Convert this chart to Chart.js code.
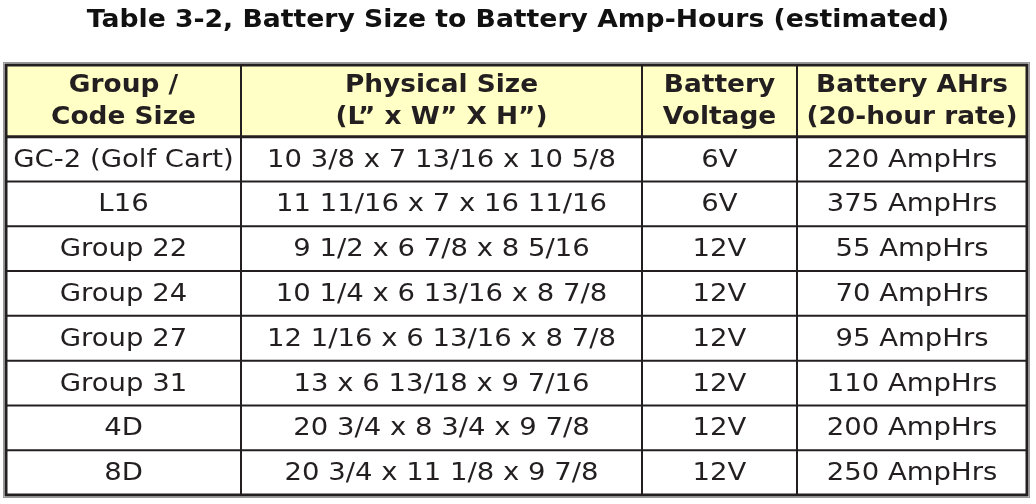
<!DOCTYPE html>
<html>
<head>
<meta charset="utf-8">
<script src="https://cdn.jsdelivr.net/npm/chart.js@4"></script>
<style>
  html, body { margin: 0; padding: 0; background: #fff; }
  #wrap { width: 1036px; height: 504px; }
</style>
</head>
<body>
<div id="wrap"><canvas id="batteryChart"></canvas></div>
<script>
const title = "Table 3-2, Battery Size to Battery Amp-Hours (estimated)";
const headers = [
  ["Group /", "Code Size"],
  ["Physical Size", "(L\u201D x W\u201D X H\u201D)"],
  ["Battery", "Voltage"],
  ["Battery AHrs", "(20-hour rate)"],
];
const groups = ["GC-2 (Golf Cart)", "L16", "Group 22", "Group 24", "Group 27", "Group 31", "4D", "8D"];
const sizes = [
  "10 3/8 x 7 13/16 x 10 5/8",
  "11 11/16 x 7 x 16 11/16",
  "9 1/2 x 6 7/8 x 8 5/16",
  "10 1/4 x 6 13/16 x 8 7/8",
  "12 1/16 x 6 13/16 x 8 7/8",
  "13 x 6 13/18 x 9 7/16",
  "20 3/4 x 8 3/4 x 9 7/8",
  "20 3/4 x 11 1/8 x 9 7/8",
];
const voltages = ["6V", "6V", "12V", "12V", "12V", "12V", "12V", "12V"];
const ampHours = [220, 375, 55, 70, 95, 110, 200, 250];

// layout: column edges on the x scale, header height in row units
const colEdges = [6, 241, 642, 797, 1027];
const headerRows = 1.6;

const columns = [groups, sizes, voltages, ampHours.map(v => v + " AmpHrs")];
const cells = [];
columns.forEach((col, c) => col.forEach((txt, r) => {
  cells.push({ x: (colEdges[c] + colEdges[c + 1]) / 2, y: headerRows + r + 0.5, text: txt });
}));

// Verdana-like width: stretch DejaVu horizontally
function wideText(ctx, txt, cx, cy, sx) {
  ctx.save();
  ctx.translate(cx, cy);
  ctx.scale(sx, 1);
  ctx.fillText(txt, 0, 0);
  ctx.restore();
}

const tablePlugin = {
  id: "tablePlugin",
  afterDraw(chart) {
    const { ctx, scales: { x, y } } = chart;
    const left = x.getPixelForValue(colEdges[0]);
    const right = x.getPixelForValue(colEdges[colEdges.length - 1]);
    const top = y.getPixelForValue(0);
    const hdrBottom = y.getPixelForValue(headerRows);
    const bottom = y.getPixelForValue(headerRows + groups.length);
    ctx.save();
    ctx.fillStyle = "#FFFFC6";
    ctx.fillRect(left, top, right - left, hdrBottom - top);
    ctx.strokeStyle = "#231F20";
    ctx.lineWidth = 2;
    for (let r = 1; r < groups.length; r++) {
      const py = y.getPixelForValue(headerRows + r);
      ctx.beginPath(); ctx.moveTo(left, py); ctx.lineTo(right, py); ctx.stroke();
    }
    colEdges.slice(1, -1).forEach(e => {
      const px = x.getPixelForValue(e);
      ctx.beginPath(); ctx.moveTo(px, top); ctx.lineTo(px, bottom); ctx.stroke();
    });
    ctx.lineWidth = 3;
    ctx.beginPath(); ctx.moveTo(left, hdrBottom); ctx.lineTo(right, hdrBottom); ctx.stroke();
    ctx.strokeRect(left, top, right - left, bottom - top);
    ctx.strokeStyle = "#999";
    ctx.lineWidth = 1;
    ctx.strokeRect(left - 2.5, top - 2.5, right - left + 5, bottom - top + 5);

    ctx.fillStyle = "#231F20";
    ctx.textAlign = "center";
    ctx.textBaseline = "middle";
    ctx.font = "bold 24px 'DejaVu Sans'";
    headers.forEach((lines, c) => {
      const cx = x.getPixelForValue((colEdges[c] + colEdges[c + 1]) / 2);
      const cy = (top + hdrBottom) / 2;
      wideText(ctx, lines[0], cx, cy - 15, 1.1);
      wideText(ctx, lines[1], cx, cy + 17, 1.1);
    });
    ctx.font = "25px 'DejaVu Sans'";
    cells.forEach(cell => {
      wideText(ctx, cell.text, x.getPixelForValue(cell.x), y.getPixelForValue(cell.y) + 1, 1.1);
    });
    ctx.fillStyle = "#111";
    ctx.font = "bold 24px 'DejaVu Sans'";
    wideText(ctx, title, chart.width / 2, 21, 1.11);
    ctx.restore();
  },
};

new Chart(document.getElementById("batteryChart"), {
  type: "scatter",
  data: { datasets: [{ data: cells, pointRadius: 0 }] },
  options: {
    responsive: true,
    maintainAspectRatio: false,
    animation: false,
    layout: { padding: { left: 6, right: 9, top: 65, bottom: 9 } },
    scales: {
      x: { type: "linear", min: colEdges[0], max: colEdges[colEdges.length - 1], display: false },
      y: { type: "linear", min: 0, max: headerRows + groups.length, reverse: true, display: false },
    },
    plugins: { legend: { display: false }, tooltip: { enabled: false } },
  },
  plugins: [tablePlugin],
});
</script>
</body>
</html>
